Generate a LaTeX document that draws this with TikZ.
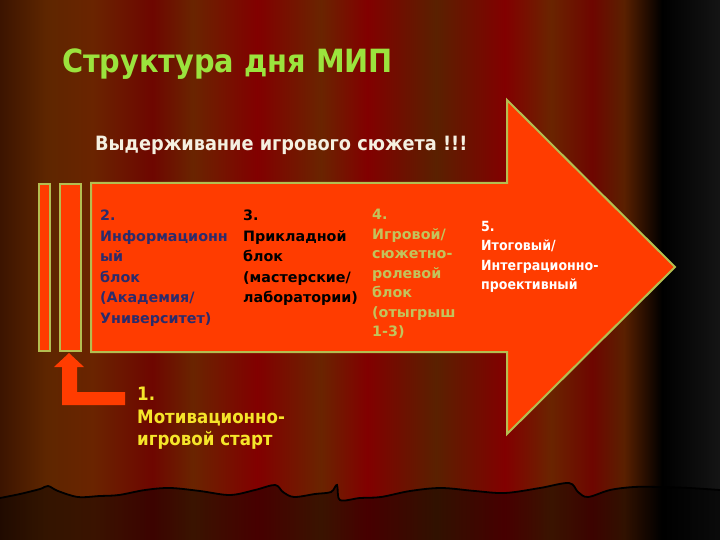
\documentclass[tikz,border=0pt]{standalone}
\usepackage{fontspec}
\setmainfont{DejaVu Sans}
\newfontfamily\condfont{DejaVu Sans Condensed}
\definecolor{arrfill}{HTML}{FF3C00}
\definecolor{arredge}{HTML}{B4BE50}
\definecolor{titlegreen}{HTML}{9BE33D}
\definecolor{subwhite}{HTML}{F5F0E1}
\definecolor{navy}{HTML}{2B2B6B}
\definecolor{olive}{HTML}{C2C45C}
\definecolor{yell}{HTML}{F5E52A}
\definecolor{cA}{HTML}{3C1400}
\definecolor{cB}{HTML}{5E2600}
\definecolor{cC}{HTML}{6E0600}
\definecolor{cD}{HTML}{6A2400}
\definecolor{cE}{HTML}{820000}
\definecolor{cF}{HTML}{5A2000}
\tikzset{
  stripe/.style 2 args={left color=#1, right color=#2, draw=none},
  blockbox/.style={fill=arrfill, draw=arredge, line width=2pt, line join=miter},
  blocktext/.style={anchor=north west, align=left, inner sep=0pt, font=\bfseries\fontsize{14.3}{20.5}\selectfont},
}
\begin{document}
\begin{tikzpicture}[x=1pt,y=-1pt]
\useasboundingbox (0,0) rectangle (720,540);
% curtain background
\fill[stripe={cA}{cB}] (0,0) rectangle (46,540);
\fill[stripe={cB}{cD}] (46,0) rectangle (92,540);
\fill[stripe={cD}{cC}] (92,0) rectangle (152,540);
\fill[stripe={cC}{cD}] (152,0) rectangle (193,540);
\fill[stripe={cD}{cE}] (193,0) rectangle (257,540);
\fill[stripe={cE}{cD}] (257,0) rectangle (321,540);
\fill[stripe={cD}{cE}] (321,0) rectangle (367,540);
\fill[stripe={cE}{cF}] (367,0) rectangle (436,540);
\fill[stripe={cF}{cE}] (436,0) rectangle (505,540);
\fill[stripe={cE}{cD}] (505,0) rectangle (551,540);
\fill[stripe={cD}{cC}] (551,0) rectangle (592,540);
\fill[stripe={cC}{cF}] (592,0) rectangle (624,540);
\fill[stripe={cF}{black}] (624,0) rectangle (662,540);
\fill[stripe={black}{black!92!white}] (662,0) rectangle (720,540);
% hem of the curtain
\fill[black, opacity=0.45] plot[smooth, tension=0.55] coordinates {(0,498) (20,494) (40,489) (48,486) (58,491) (78,497) (100,496) (119,495) (145,490) (170,488) (200,491) (230,495) (255,490) (275,485) (283,492) (294,497) (315,494) (331,492) (337,485) (340,500) (360,498) (381,497) (410,491) (441,488) (475,491) (505,493) (540,488) (569,483) (578,492) (588,497) (610,490) (634,487) (660,487) (689,488) (720,490)} -- (720,540) -- (0,540) -- cycle;
\draw[black, line width=1.8pt] plot[smooth, tension=0.55] coordinates {(0,498) (20,494) (40,489) (48,486) (58,491) (78,497) (100,496) (119,495) (145,490) (170,488) (200,491) (230,495) (255,490) (275,485) (283,492) (294,497) (315,494) (331,492) (337,485) (340,500) (360,498) (381,497) (410,491) (441,488) (475,491) (505,493) (540,488) (569,483) (578,492) (588,497) (610,490) (634,487) (660,487) (689,488) (720,490)};
% title texts
\node[anchor=base west, inner sep=0pt, text=titlegreen, font=\condfont\bfseries\fontsize{32}{36}\selectfont] (title) at (62,73) {Структура дня МИП};
\node[anchor=base west, inner sep=0pt, text=subwhite, font=\condfont\bfseries\fontsize{19.7}{22}\selectfont] (subtitle) at (95,151) {Выдерживание игрового сюжета !!!};
% big arrow
\draw[blockbox] (91,183) -- (507,183) -- (507,100) -- (675,267) -- (507,434) -- (507,352) -- (91,352) -- cycle;
% thin bars
\draw[blockbox] (39,184) rectangle (50,351);
\draw[blockbox] (60,184) rectangle (81,351);
% L-shaped arrow
\fill[arrfill] (69,353) -- (84,367) -- (77,367) -- (77,392) -- (125,392) -- (125,405) -- (62,405) -- (62,367) -- (54,367) -- cycle;
% block texts
\node[blocktext, text=navy] (b2) at (100,210) {2.\\Информационн\\ый\\блок\\(Академия/\\Университет)};
\node[blocktext, text=black] (b3) at (243,210) {3.\\Прикладной\\блок\\(мастерские/\\лаборатории)};
\node[blocktext, text=olive, font=\bfseries\fontsize{14.3}{19.5}\selectfont] (b4) at (372,209) {4.\\Игровой/\\сюжетно-\\ролевой\\блок\\(отыгрыш\\1-3)};
\node[anchor=north west, align=left, inner sep=0pt, text=white, font=\condfont\bfseries\fontsize{14}{19.5}\selectfont] (b5) at (481,221) {5.\\Итоговый/\\Интеграционно-\\проективный};
\node[anchor=north west, align=left, inner sep=0pt, text=yell, font=\condfont\bfseries\fontsize{18.5}{22.5}\selectfont] (b1) at (137,387) {1.\\Мотивационно-\\игровой старт};
\end{tikzpicture}
\end{document}
